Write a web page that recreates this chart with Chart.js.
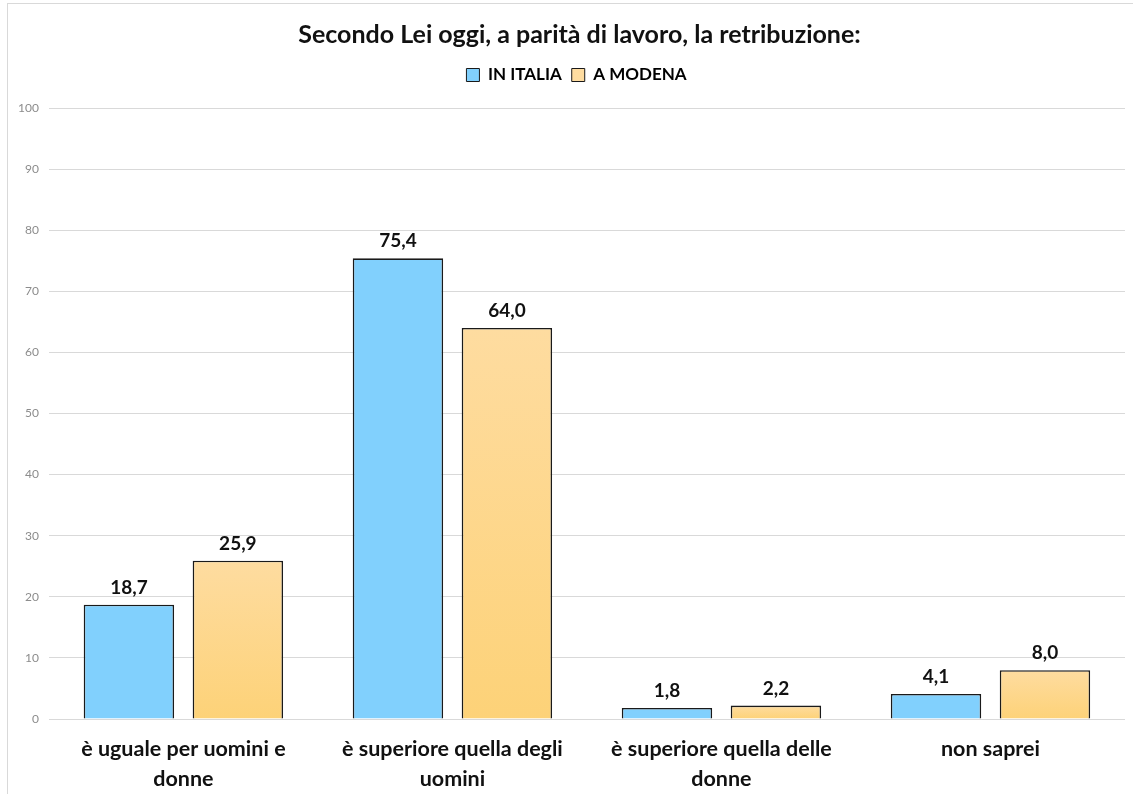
<!DOCTYPE html>
<html lang="it">
<head>
<meta charset="utf-8">
<title>Retribuzione a parità di lavoro</title>
<script src="https://cdn.jsdelivr.net/npm/chart.js@4/dist/chart.umd.min.js"></script>
<style>
  html, body { margin: 0; padding: 0; background: #ffffff; }
  #wrap { position: relative; width: 1133px; height: 794px; overflow: hidden; }
  #frame { position: absolute; left: 7px; top: 3px; right: -2px; bottom: -2px;
           border-left: 1px solid #d9d9d9; border-top: 1px solid #d9d9d9; pointer-events: none; }
  canvas { position: absolute; left: 0; top: 0; }
</style>
</head>
<body>
<div id="wrap">
  <canvas id="chart" width="1133" height="794"></canvas>
  <div id="frame"></div>
</div>
<script>
const TITLE = 'Secondo Lei oggi, a parità di lavoro, la retribuzione:';
const CATEGORIES = [
  ['è uguale per uomini e', 'donne'],
  ['è superiore quella degli', 'uomini'],
  ['è superiore quella delle', 'donne'],
  'non saprei'
];
const SERIES_NAMES = ['IN ITALIA', 'A MODENA'];
const ITALIA = [18.7, 75.4, 1.8, 4.1];
const MODENA = [25.9, 64.0, 2.2, 8.0];
const Y_TICKS = [0, 10, 20, 30, 40, 50, 60, 70, 80, 90, 100];

const FONT = 'Lato, "Open Sans", "Noto Sans", sans-serif';
const BLUE = '#81d0fd';
const ORANGE_TOP = '#fedca0';
const ORANGE_BOTTOM = '#fdd278';

// Vertical gradient for each orange bar, spanning from its top to the baseline
function orangeFill(ctx) {
  const chart = ctx.chart;
  const y = chart.scales && chart.scales.y;
  if (!chart.chartArea || !y || ctx.type !== 'data') return ORANGE_BOTTOM;
  const top = y.getPixelForValue(ctx.raw);
  const base = y.getPixelForValue(0);
  const g = chart.ctx.createLinearGradient(0, top, 0, base);
  g.addColorStop(0, ORANGE_TOP);
  g.addColorStop(1, ORANGE_BOTTOM);
  return g;
}

// Value labels above each bar, Italian decimal comma
const valueLabels = {
  id: 'valueLabels',
  afterDatasetsDraw(chart) {
    const c = chart.ctx;
    c.save();
    c.font = 'bold 19px ' + FONT;
    c.fillStyle = '#111111';
    c.textAlign = 'center';
    c.textBaseline = 'middle';
    chart.data.datasets.forEach((ds, i) => {
      chart.getDatasetMeta(i).data.forEach((bar, j) => {
        const v = ds.data[j];
        c.fillText(v.toFixed(1).replace('.', ','), bar.x, bar.y - 17);
      });
    });
    c.restore();
  }
};

// Extra room between the legend row and the plot area,
// and the header block nudged slightly right of the canvas centre
const headerLayout = {
  id: 'headerLayout',
  beforeInit(chart) {
    const legend = chart.legend;
    if (!legend) return;
    const fit = legend.fit;
    legend.fit = function () {
      fit.call(this);
      this.height += 14.5;
    };
  },
  afterLayout(chart) {
    if (chart.titleBlock) {
      chart.titleBlock.left += 13;
      chart.titleBlock.right += 13;
    }
    if (chart.legend) {
      chart.legend.left += 10;
      chart.legend.right += 10;
    }
  }
};

new Chart(document.getElementById('chart'), {
  type: 'bar',
  data: {
    labels: CATEGORIES,
    datasets: [
      {
        label: SERIES_NAMES[0],
        data: ITALIA,
        backgroundColor: BLUE,
        borderColor: '#1a1a1a',
        borderWidth: 1.6,
        borderSkipped: 'bottom'
      },
      {
        label: SERIES_NAMES[1],
        data: MODENA,
        backgroundColor: orangeFill,
        borderColor: '#1a1a1a',
        borderWidth: 1.6,
        borderSkipped: 'bottom'
      }
    ]
  },
  options: {
    responsive: false,
    animation: false,
    devicePixelRatio: 1,
    categoryPercentage: 0.81,
    barPercentage: 0.83,
    layout: { padding: { left: 8, right: 8, top: 14, bottom: -15 } },
    plugins: {
      title: {
        display: true,
        text: TITLE,
        color: '#111111',
        font: { family: FONT, size: 25, weight: 'bold' },
        padding: { top: 6, bottom: 6.5 }
      },
      legend: {
        display: true,
        position: 'top',
        labels: {
          color: '#111111',
          font: { family: FONT, size: 17, weight: 'bold' },
          boxWidth: 13,
          boxHeight: 13,
          padding: 10,
          generateLabels(chart) {
            return chart.data.datasets.map((ds, i) => ({
              text: ds.label,
              fillStyle: i === 0 ? BLUE : ORANGE_TOP,
              strokeStyle: '#1a1a1a',
              lineWidth: 1,
              hidden: false,
              datasetIndex: i
            }));
          }
        }
      },
      tooltip: { enabled: false }
    },
    scales: {
      x: {
        grid: { display: false, drawTicks: false },
        border: { display: false },
        ticks: {
          color: '#111111',
          font: { family: FONT, size: 21.5, weight: 'bold', lineHeight: 1.395 },
          padding: 15,
          maxRotation: 0,
          autoSkip: false
        }
      },
      y: {
        min: 0,
        max: 100,
        afterBuildTicks(axis) { axis.ticks = Y_TICKS.map(v => ({ value: v })); },
        grid: { color: '#d9d9d9', lineWidth: 1, drawTicks: false },
        border: { display: false },
        ticks: {
          color: '#8c8c8c',
          font: { family: FONT, size: 12 },
          padding: 10
        }
      }
    }
  },
  plugins: [valueLabels, headerLayout]
});
</script>
</body>
</html>
